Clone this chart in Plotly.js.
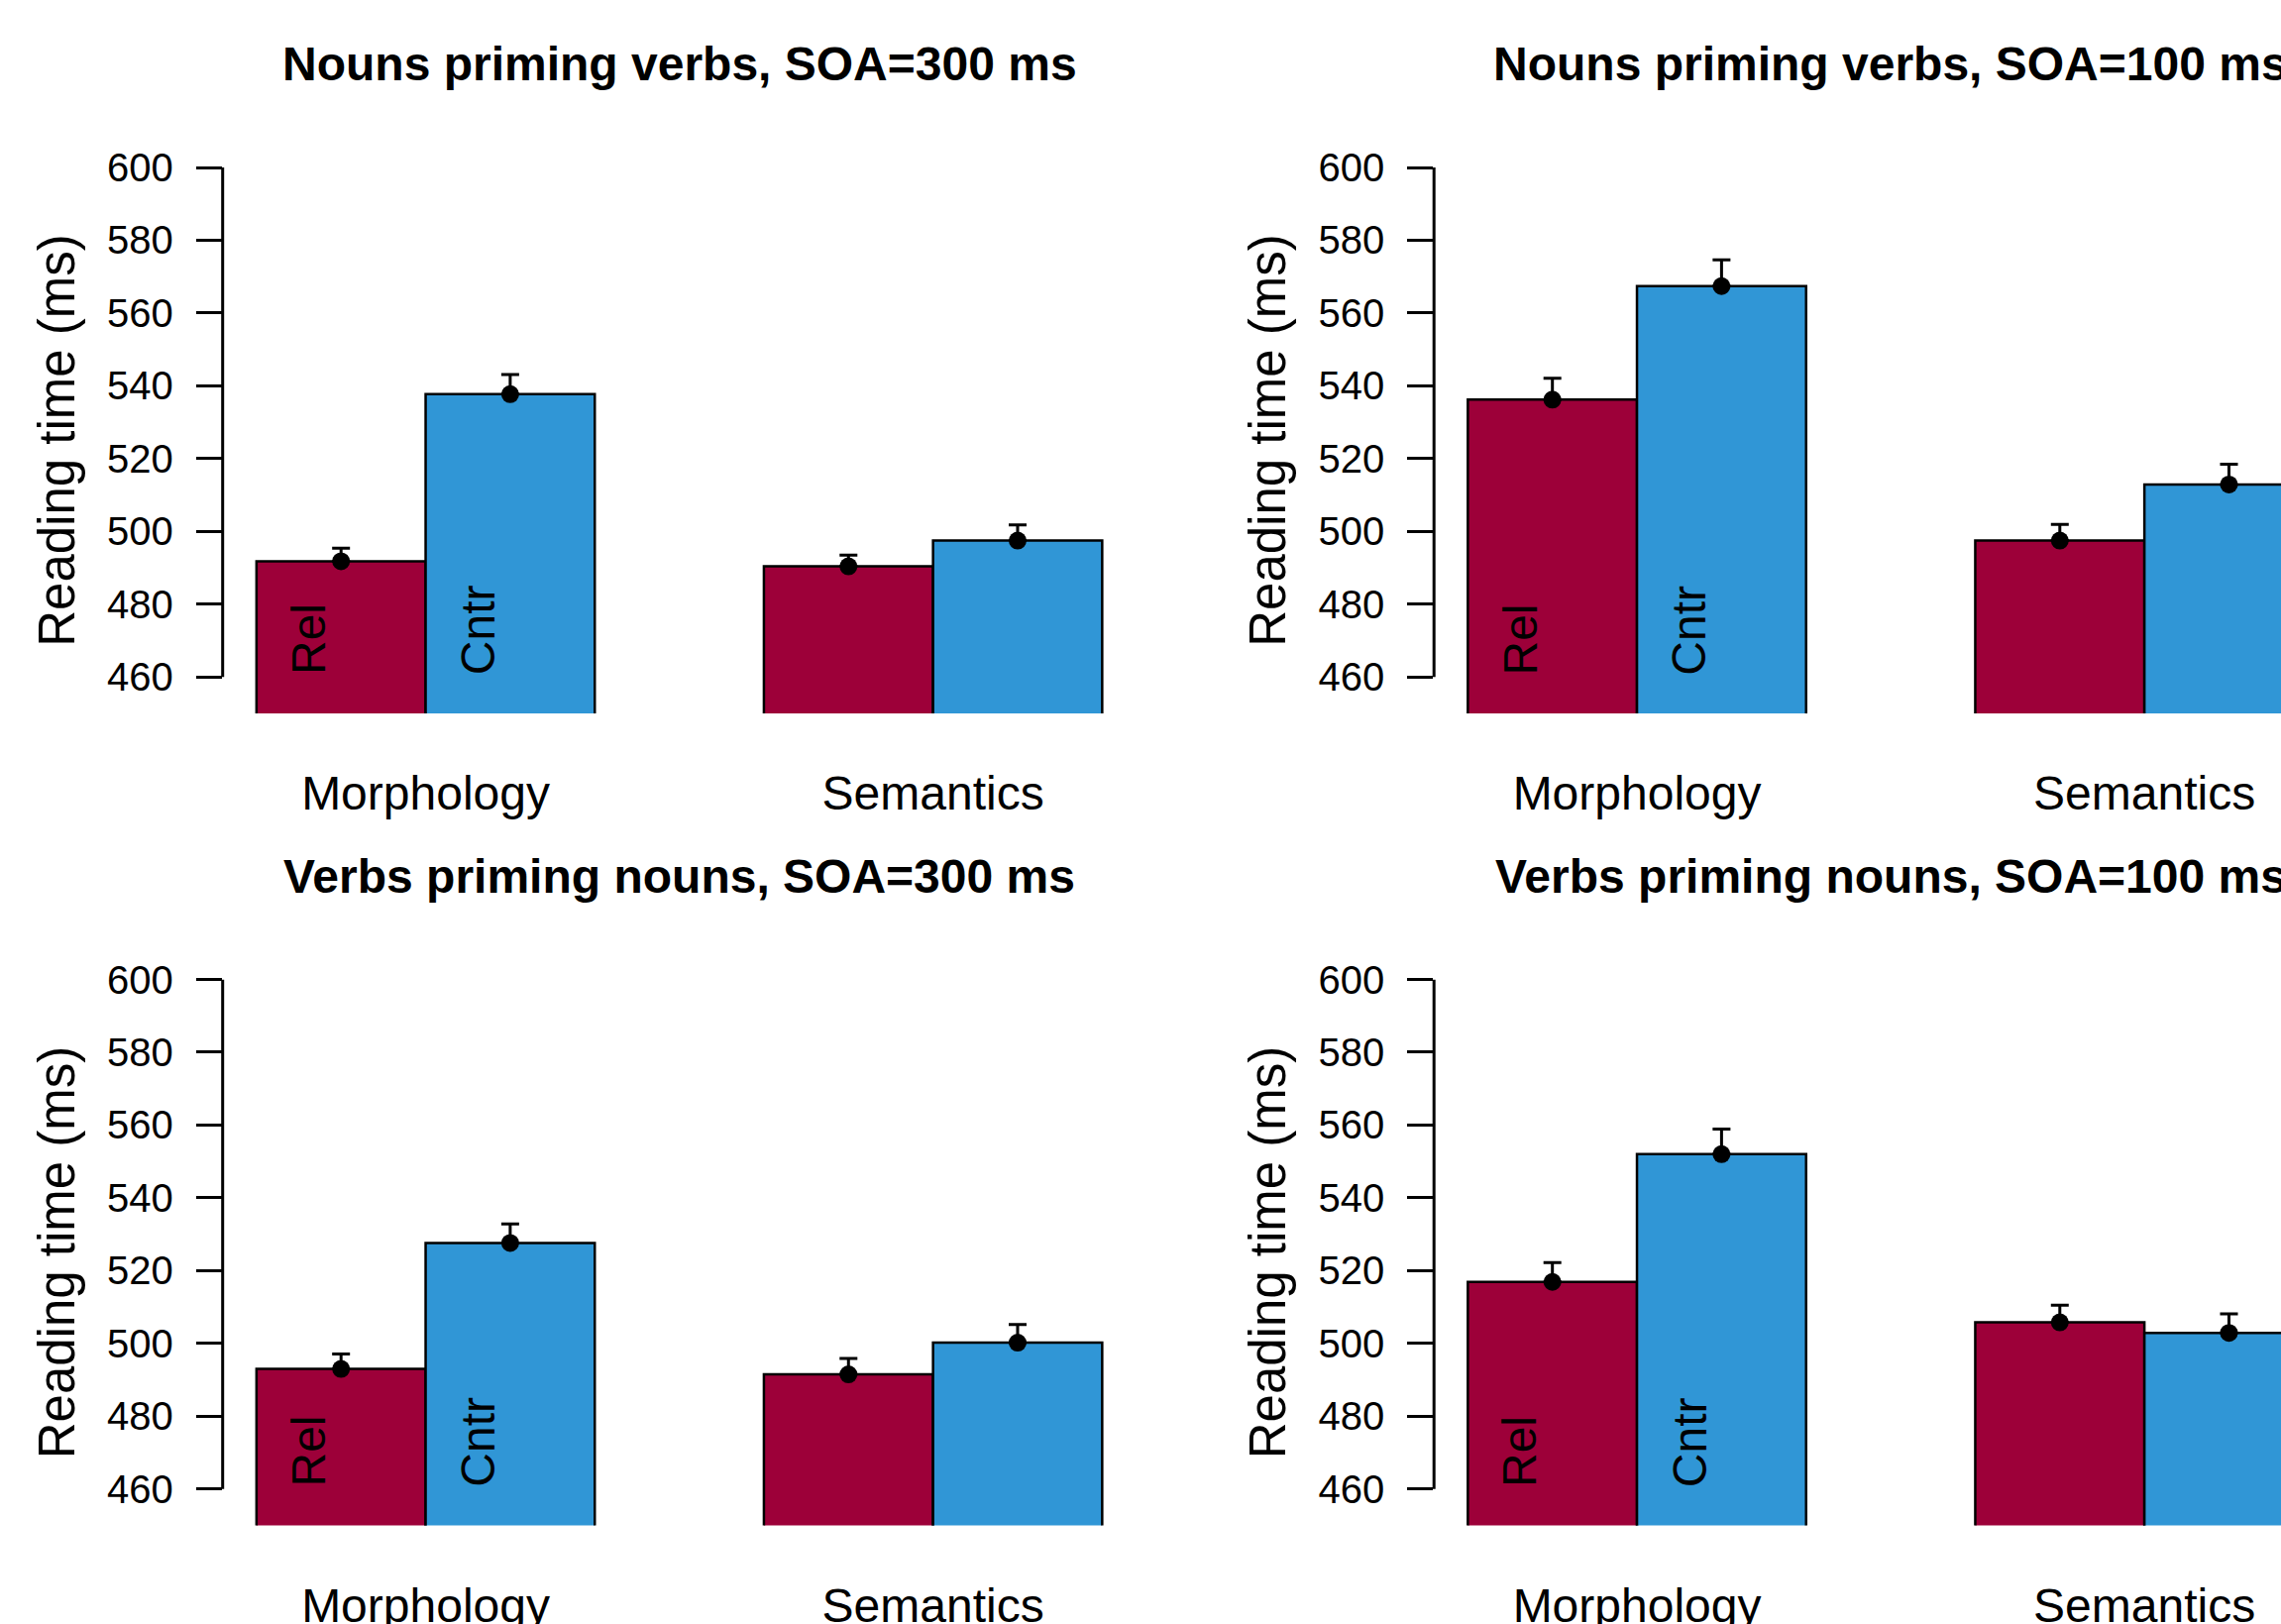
<!DOCTYPE html>
<html><head><meta charset="utf-8">
<script src="https://cdn.plot.ly/plotly-3.0.1.min.js"></script>
<style>html,body{margin:0;padding:0;background:#fff;overflow:hidden;} #chart{width:2302px;height:1639px;}</style>
</head><body><div id="chart"></div>
<script>
// ---------------- data ----------------
const panelTitles = ["Nouns priming verbs, SOA=300 ms", "Nouns priming verbs, SOA=100 ms",
                     "Verbs priming nouns, SOA=300 ms", "Verbs priming nouns, SOA=100 ms"];
const groups = ["Morphology", "Semantics"];
const conditions = ["Rel", "Cntr"];
// mean reading times per panel: [Morphology, Semantics]
const relMeans  = [[491.8, 490.4], [536.2, 497.5], [493.0, 491.5], [516.9, 505.8]];
const cntrMeans = [[537.7, 497.5], [567.4, 512.9], [527.6, 500.2], [552.0, 502.9]];
// upper error bar lengths (SE)
const relSE  = [[3.6, 3.1], [5.9, 4.4], [4.1, 4.4], [5.3, 4.7]];
const cntrSE = [[5.4, 4.3], [7.2, 5.6], [5.2, 5.0], [6.9, 5.2]];
const yTicks = [460, 480, 500, 520, 540, 560, 580, 600];
const yLabel = "Reading time (ms)";
const colors = {Rel: "#9D0039", Cntr: "#3096D6"};

// ---------------- geometry ----------------
const W = 2302, H = 1639;
const FONT = "Liberation Sans, Arial, Helvetica, sans-serif";
const unitPx = 170.7;            // pixels per bar width
const colLeft = [224.7, 1447.2]; // plot-region left edge for each column
const rowTop = [169, 988.5];     // plot-region top edge for each row
const plotH = 551;               // plot-region height
const xMin = 0.8, xMaxFull = 6.2;
const yRange = [450, 600];

const px = v => v / W;
const py = v => 1 - v / H;

const data = [];
const layout = {
  width: W, height: H,
  margin: {l: 0, r: 0, t: 0, b: 0, pad: 0},
  paper_bgcolor: "#fff", plot_bgcolor: "rgba(0,0,0,0)",
  showlegend: false,
  barmode: "overlay",
  font: {family: FONT, color: "#000"},
  annotations: [], shapes: []
};

for (let p = 0; p < 4; p++) {
  const row = Math.floor(p / 2), col = p % 2;
  const sfx = p === 0 ? "" : String(p + 1);
  const xa = "x" + sfx, ya = "y" + sfx;
  const left = colLeft[col];
  const fullRight = left + (xMaxFull - xMin) * unitPx;
  const right = Math.min(fullRight, W);
  const xMax = xMin + (right - left) / unitPx;

  layout["xaxis" + sfx] = {
    domain: [px(left), px(right)], range: [xMin, xMax], anchor: ya,
    showgrid: false, zeroline: false, showline: false, ticks: "",
    tickmode: "array", tickvals: groups.map((g, i) => 2 + 3 * i), ticktext: groups,
    tickfont: {size: 48, family: FONT, color: "#000"}, ticklabelstandoff: 48,
    fixedrange: true
  };
  layout["yaxis" + sfx] = {
    domain: [py(rowTop[row] + plotH), py(rowTop[row])], range: yRange, anchor: xa,
    showgrid: false, zeroline: false, showline: false,
    ticks: "outside", ticklen: 26, tickwidth: 3, tickcolor: "#000",
    tickmode: "array", tickvals: yTicks, ticktext: yTicks.map(String),
    tickfont: {size: 40, family: FONT, color: "#000"}, ticklabelstandoff: 15,
    title: {text: yLabel, font: {size: 51, family: FONT, color: "#000"}, standoff: 16},
    fixedrange: true
  };

  // bar centres
  const relX = groups.map((g, i) => 1 + 3 * i + 0.5);
  const cntrX = groups.map((g, i) => 1 + 3 * i + 1.5);

  data.push({type: "bar", x: relX, y: relMeans[p], width: 1, xaxis: xa, yaxis: ya, name: "Rel",
    marker: {color: colors.Rel, line: {color: "#000", width: 2.5}}, hoverinfo: "skip"});
  data.push({type: "bar", x: cntrX, y: cntrMeans[p], width: 1, xaxis: xa, yaxis: ya, name: "Cntr",
    marker: {color: colors.Cntr, line: {color: "#000", width: 2.5}}, hoverinfo: "skip"});
  data.push({type: "scatter", mode: "markers", x: relX.concat(cntrX), y: relMeans[p].concat(cntrMeans[p]),
    xaxis: xa, yaxis: ya, cliponaxis: false, hoverinfo: "skip",
    marker: {color: "#000", size: 18},
    error_y: {type: "data", symmetric: false, array: relSE[p].concat(cntrSE[p]),
      arrayminus: relSE[p].concat(cntrSE[p]).map(() => 0), color: "#000", thickness: 3, width: 9}});

  // axis line from first to last tick
  layout.shapes.push({type: "line", xref: xa + " domain", yref: ya, x0: 0, x1: 0,
    y0: yTicks[0], y1: yTicks[yTicks.length - 1], line: {color: "#000", width: 3}, layer: "above"});

  // panel title
  const centre = left + (xMaxFull - xMin) * unitPx / 2;
  layout.annotations.push({text: "<b>" + panelTitles[p] + "</b>", xref: "paper", yref: "paper",
    x: px(centre), y: py(rowTop[row] - 76), xanchor: "center", yanchor: "bottom", showarrow: false,
    font: {size: 48, family: FONT, color: "#000"}});

  // Rel / Cntr labels inside the first group's bars
  [relX[0], cntrX[0]].forEach((cx, k) => {
    layout.annotations.push({text: conditions[k], xref: xa, yref: ya, x: cx - 0.19, y: yTicks[0],
      xanchor: "center", yanchor: "bottom", textangle: -90, showarrow: false,
      font: {size: 48, family: FONT, color: "#000"}});
  });
}

Plotly.newPlot("chart", data, layout, {staticPlot: true, displayModeBar: false});
</script>
</body></html>
